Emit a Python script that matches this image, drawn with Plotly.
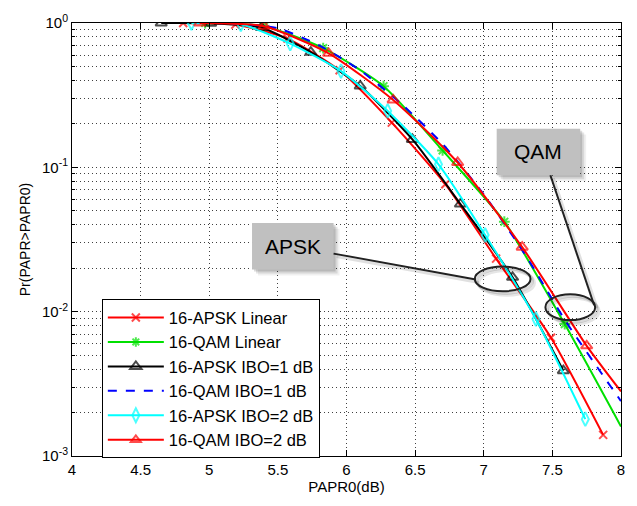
import plotly.graph_objects as go

# ---------------- data ----------------
apsk_lin_x = [4.81, 5.19, 5.57, 5.95, 6.33, 6.72, 7.09, 7.49, 7.87]
apsk_lin_y = [1.0, 0.975, 0.78, 0.47, 0.204, 0.0764, 0.0233, 0.0066, 0.0014]

qam_lin_x = [4.97, 5.40, 5.83, 6.27, 6.70, 7.15, 7.59, 8.0]
qam_lin_y = [1.0, 0.95, 0.67, 0.365, 0.131, 0.042, 0.0082, 0.0016]

apsk_ibo1_x = [4.65, 5.01, 5.38, 5.74, 6.10, 6.48, 6.83, 7.21, 7.58]
apsk_ibo1_y = [1.0, 0.995, 0.93, 0.627, 0.366, 0.156, 0.0557, 0.0173, 0.0039]

qam_ibo1_x = [4.9, 5.2, 5.5, 5.8, 6.1, 6.4, 6.7, 7.0, 7.3, 7.6, 8.0]
qam_ibo1_y = [1.0, 0.99, 0.92, 0.70, 0.47, 0.275, 0.145, 0.065, 0.025, 0.0085, 0.0024]

apsk_ibo2_x = [4.87, 5.23, 5.59, 5.96, 6.30, 6.67, 7.01, 7.38, 7.74]
apsk_ibo2_y = [1.0, 0.98, 0.72, 0.464, 0.246, 0.105, 0.034, 0.0089, 0.0018]

qam_ibo2_x = [4.93, 5.40, 5.87, 6.34, 6.81, 7.28, 7.75, 8.0]
qam_ibo2_y = [1.0, 0.95, 0.617, 0.293, 0.108, 0.028, 0.0058, 0.0028]

series_names = ["16-APSK Linear", "16-QAM Linear", "16-APSK IBO=1 dB",
                "16-QAM IBO=1 dB", "16-APSK IBO=2 dB", "16-QAM IBO=2 dB"]

x_ticks = [4, 4.5, 5, 5.5, 6, 6.5, 7, 7.5, 8]
x_ticktext = ["4", "4.5", "5", "5.5", "6", "6.5", "7", "7.5", "8"]
y_ticks = [1e-3, 1e-2, 1e-1, 1]
y_ticktext = ["10<sup>-3</sup>", "10<sup>-2</sup>", "10<sup>-1</sup>", "10<sup>0</sup>"]
y_minor = [m * 10.0 ** e for e in (-3, -2, -1) for m in range(2, 10)]

FONT = "Liberation Sans, Arial, sans-serif"

fig = go.Figure()


def sizes(xs, s):
    # no marker on points that sit on the right axis edge
    return [s if x < 7.99 else 0 for x in xs]


specs = [
    (apsk_lin_x, apsk_lin_y, "red", "x-thin-open", 8, "solid"),
    (qam_lin_x, qam_lin_y, "#00e000", "asterisk-open", 9, "solid"),
    (apsk_ibo1_x, apsk_ibo1_y, "black", "triangle-up-open", 10, "solid"),
    (qam_ibo1_x, qam_ibo1_y, "#0000ff", None, 0, "dash"),
    (apsk_ibo2_x, apsk_ibo2_y, "cyan", "diamond-tall-open", 10, "solid"),
    (qam_ibo2_x, qam_ibo2_y, "red", "triangle-up-open", 10, "solid"),
]

for (xs, ys, col, sym, ms, dash), name in zip(specs, series_names):
    mode = "lines+markers" if sym else "lines"
    marker = dict(symbol=sym, size=sizes(xs, ms), color=col,
                  line=dict(color=col, width=2)) if sym else None
    fig.add_trace(go.Scatter(
        x=xs, y=ys, name=name, mode=mode,
        line=dict(color=col, width=2, dash=dash, shape="spline", smoothing=0.6),
        marker=marker, legendgroup=name,
    ))

# ---------------- layout ----------------
L, R, T, B = 72, 624, 19.5, 456
W, H = R - L, B - T


def px(x):
    return (x - L) / W


def py(y):
    return (B - y) / H


shapes = []
annotations = []

# annotation boxes (APSK, QAM) with soft shadows
for (x0, y0, x1, y1, txt) in [(253, 221, 335, 268, "APSK"), (499, 126, 583, 173, "QAM")]:
    for k, a in [(6, 0.06), (4, 0.10), (2, 0.14)]:
        shapes.append(dict(type="rect", xref="paper", yref="paper",
                           x0=px(x0 + k), x1=px(x1 + k), y0=py(y0 + k), y1=py(y1 + k),
                           line=dict(width=0), fillcolor=f"rgba(0,0,0,{a})", layer="above"))
    shapes.append(dict(type="rect", xref="paper", yref="paper",
                       x0=px(x0), x1=px(x1), y0=py(y0), y1=py(y1),
                       line=dict(width=0), fillcolor="#c0c0c0", layer="above"))
    annotations.append(dict(xref="paper", yref="paper", x=px((x0 + x1) / 2), y=py((y0 + y1) / 2),
                            text=txt, showarrow=False, font=dict(family=FONT, size=21, color="black"),
                            xanchor="center", yanchor="middle"))

# ellipses with shadows
for (cx, cy, rx, ry) in [(505, 277.5, 28, 12.5), (573, 306, 25, 13)]:
    for k, a in [(4, 0.10), (2, 0.15)]:
        shapes.append(dict(type="circle", xref="paper", yref="paper",
                           x0=px(cx - rx + k), x1=px(cx + rx + k), y0=py(cy - ry + k), y1=py(cy + ry + k),
                           line=dict(color=f"rgba(0,0,0,{a})", width=3), layer="above"))
    shapes.append(dict(type="circle", xref="paper", yref="paper",
                       x0=px(cx - rx), x1=px(cx + rx), y0=py(cy - ry), y1=py(cy + ry),
                       line=dict(color="#222", width=2), layer="above"))

# connector lines
for (xa, ya, xb, yb) in [(335, 252, 478, 278), (553, 173, 597, 304)]:
    shapes.append(dict(type="line", xref="paper", yref="paper",
                       x0=px(xa + 3), x1=px(xb + 3), y0=py(ya + 3), y1=py(yb + 3),
                       line=dict(color="rgba(0,0,0,0.12)", width=3), layer="above"))
    shapes.append(dict(type="line", xref="paper", yref="paper",
                       x0=px(xa), x1=px(xb), y0=py(ya), y1=py(yb),
                       line=dict(color="#222", width=2), layer="above"))

grid_col = "rgba(0,0,0,0.75)"
grid_dash = "1px,3px"

fig.update_layout(
    width=637, height=506,
    margin=dict(l=L, r=637 - R, t=T, b=506 - B),
    paper_bgcolor="white", plot_bgcolor="white",
    font=dict(family=FONT, size=14, color="black"),
    showlegend=True,
    legend=dict(x=px(102), y=py(298), xanchor="left", yanchor="top",
                bgcolor="white", bordercolor="black", borderwidth=1,
                font=dict(family=FONT, size=16.5, color="black"),
                itemwidth=56, tracegroupgap=0, traceorder="grouped"),
    shapes=shapes,
    annotations=annotations,
    xaxis=dict(range=[4, 8], tickvals=x_ticks, ticktext=x_ticktext,
               showline=True, linecolor="black", linewidth=1, mirror="ticks",
               ticks="inside", ticklen=6, tickcolor="black",
               showgrid=True, gridcolor=grid_col, griddash=grid_dash, gridwidth=1,
               zeroline=False, title=dict(text="PAPR0(dB)", standoff=3,
                                          font=dict(family=FONT, size=15)),
               tickfont=dict(family=FONT, size=15)),
    yaxis=dict(type="log", range=[-3, 0], tickvals=y_ticks, ticktext=y_ticktext,
               showline=True, linecolor="black", linewidth=1, mirror="ticks",
               ticks="inside", ticklen=6, tickcolor="black",
               showgrid=True, gridcolor=grid_col, griddash=grid_dash, gridwidth=1,
               minor=dict(tickmode="array", tickvals=y_minor, ticks="inside", ticklen=3,
                          tickcolor="black", showgrid=True, gridcolor=grid_col,
                          griddash=grid_dash, gridwidth=1),
               zeroline=False, title=dict(text="Pr(PAPR>PAPR0)", standoff=8,
                                          font=dict(family=FONT, size=14)),
               tickfont=dict(family=FONT, size=15)),
)

fig.write_html("out.html")
